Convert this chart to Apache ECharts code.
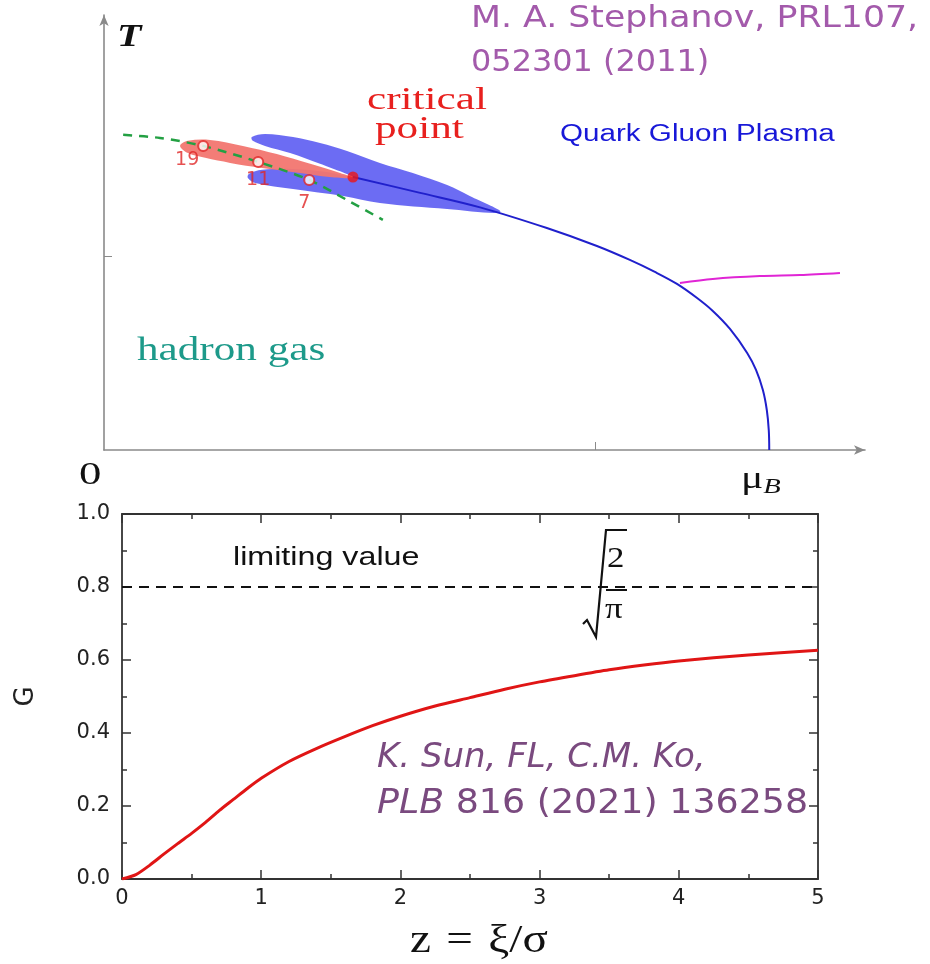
<!DOCTYPE html>
<html>
<head>
<meta charset="utf-8">
<script src="https://cdn.jsdelivr.net/npm/echarts@6/dist/echarts.min.js"></script>
<style>
  html, body { margin: 0; padding: 0; background: #fff; }
  #chart { width: 930px; height: 964px; }
</style>
</head>
<body>
<div id="chart"></div>
<script>
// ---- Phase diagram (upper panel), in arbitrary mu_B / T units ----
const phaseLine = [
  [0.507, 1.412], [0.644, 1.330], [0.766, 1.255], [0.902, 1.148], [1.004, 1.055],
  [1.071, 0.983], [1.122, 0.921], [1.167, 0.859], [1.208, 0.786], [1.240, 0.719],
  [1.275, 0.626], [1.310, 0.502], [1.328, 0.414], [1.342, 0.310], [1.350, 0.207],
  [1.354, 0.103], [1.355, 0.0]
];
const magentaLine = [
  [1.173, 0.864], [1.240, 0.885], [1.336, 0.900], [1.418, 0.905], [1.499, 0.916]
];
const freezeOut = [
  [0.039, 1.630], [0.114, 1.614], [0.202, 1.573], [0.314, 1.490], [0.418, 1.397],
  [0.495, 1.293], [0.568, 1.190]
];
const blueRegion = [
  [0.807, 1.231], [0.745, 1.314], [0.699, 1.371], [0.629, 1.433], [0.562, 1.485],
  [0.495, 1.547], [0.440, 1.588], [0.385, 1.619], [0.328, 1.635], [0.301, 1.619],
  [0.303, 1.599], [0.328, 1.573], [0.379, 1.536], [0.440, 1.480], [0.507, 1.412],
  [0.454, 1.438], [0.385, 1.454], [0.322, 1.449], [0.295, 1.428], [0.293, 1.407],
  [0.308, 1.381], [0.385, 1.350], [0.487, 1.314], [0.562, 1.278], [0.699, 1.247]
];
const redRegion = [
  [0.155, 1.573], [0.171, 1.599], [0.216, 1.604], [0.283, 1.573], [0.352, 1.531],
  [0.420, 1.480], [0.481, 1.433], [0.507, 1.407], [0.460, 1.412], [0.399, 1.433],
  [0.322, 1.459], [0.257, 1.485], [0.206, 1.511], [0.171, 1.536]
];
const energyPoints = [[0.202, 1.573], [0.314, 1.490], [0.418, 1.397]];
const energyLabels = ['19', '11', '7'];
const criticalPoint = [[0.507, 1.412]];

// ---- G(z) (lower panel) ----
const zValues = [0, 0.1, 0.2, 0.3, 0.4, 0.5, 0.6, 0.7, 0.8, 0.9, 1.0, 1.2, 1.4, 1.6, 1.8,
                 2.0, 2.25, 2.5, 2.75, 3.0, 3.25, 3.5, 3.75, 4.0, 4.5, 5.0];
const gValues = [0, 0.012, 0.038, 0.068, 0.097, 0.125, 0.155, 0.188, 0.218, 0.248, 0.276,
                 0.322, 0.358, 0.39, 0.42, 0.446, 0.474, 0.497, 0.52, 0.54, 0.557, 0.573,
                 0.586, 0.597, 0.614, 0.627];
const limitValue = 0.8;

const labelOffsets = [[-16, 14], [0, 18], [-5, 23]];

function polygonSeries(name, pts, color, z) {
  return {
    type: 'custom', name: name, xAxisIndex: 0, yAxisIndex: 0, z: z, silent: true,
    data: pts,
    renderItem: function (params, api) {
      if (params.dataIndex !== 0) return;
      const coords = pts.map(function (p) { return api.coord(p); });
      return { type: 'polygon', shape: { points: coords, smooth: 0.35 }, style: { fill: color } };
    }
  };
}

// text element placed by its top-left corner, widened by sx
function label(x, y, text, font, color, sx, extra) {
  const style = Object.assign({ text: text, font: font, fill: color, align: 'left', verticalAlign: 'top' }, extra || {});
  return { type: 'text', x: x, y: y, scaleX: sx || 1, scaleY: 1, style: style, silent: true };
}

const chart = echarts.init(document.getElementById('chart'), null, { renderer: 'canvas' });

const frameLine = { show: true, onZero: false, lineStyle: { color: '#333', width: 1.8 } };
const tickStyle = { color: '#333', width: 1.5 };
const tickFont = { fontFamily: 'DejaVu Sans', fontSize: 21, color: '#222' };

chart.setOption({
  animation: false,
  backgroundColor: '#fff',
  grid: [
    { left: 104, top: 15, width: 761, height: 435 },
    { left: 122, top: 514, width: 696, height: 365 }
  ],
  xAxis: [
    {
      gridIndex: 0, type: 'value', min: 0, max: 1.55,
      axisLine: { show: true, onZero: false, symbol: ['none', 'arrow'], symbolSize: [7, 11], lineStyle: { color: '#8a8a8a', width: 1.6 } },
      axisTick: { show: true, inside: true, length: 8, customValues: [1], lineStyle: { color: '#8a8a8a' } },
      axisLabel: { show: false }, splitLine: { show: false }
    },
    {
      gridIndex: 1, type: 'value', min: 0, max: 5, interval: 1, position: 'bottom',
      axisLine: frameLine,
      axisTick: { show: true, inside: true, length: 9, lineStyle: tickStyle },
      minorTick: { show: true, splitNumber: 2, length: 5, lineStyle: tickStyle },
      axisLabel: Object.assign({ show: true, margin: 9 }, tickFont),
      splitLine: { show: false }
    },
    {
      gridIndex: 1, type: 'value', min: 0, max: 5, interval: 1, position: 'top',
      axisLine: frameLine,
      axisTick: { show: true, inside: true, length: 9, lineStyle: tickStyle },
      minorTick: { show: true, splitNumber: 2, length: 5, lineStyle: tickStyle },
      axisLabel: { show: false }, splitLine: { show: false }
    }
  ],
  yAxis: [
    {
      gridIndex: 0, type: 'value', min: 0, max: 2.25,
      axisLine: { show: true, onZero: false, symbol: ['none', 'arrow'], symbolSize: [7, 11], lineStyle: { color: '#8a8a8a', width: 1.6 } },
      axisTick: { show: true, inside: true, length: 8, customValues: [1], lineStyle: { color: '#8a8a8a' } },
      axisLabel: { show: false }, splitLine: { show: false }
    },
    {
      gridIndex: 1, type: 'value', min: 0, max: 1, interval: 0.2, position: 'left',
      axisLine: frameLine,
      axisTick: { show: true, inside: true, length: 9, lineStyle: tickStyle },
      minorTick: { show: true, splitNumber: 2, length: 5, lineStyle: tickStyle },
      axisLabel: Object.assign({ show: true, margin: 12,
        formatter: function (v) { return v.toFixed(1); } }, tickFont),
      splitLine: { show: false },
      name: 'G', nameLocation: 'middle', nameGap: 83, nameRotate: 90,
      nameTextStyle: { fontFamily: 'DejaVu Sans', fontSize: 26, color: '#222' }
    },
    {
      gridIndex: 1, type: 'value', min: 0, max: 1, interval: 0.2, position: 'right',
      axisLine: frameLine,
      axisTick: { show: true, inside: true, length: 9, lineStyle: tickStyle },
      minorTick: { show: true, splitNumber: 2, length: 5, lineStyle: tickStyle },
      axisLabel: { show: false }, splitLine: { show: false }
    }
  ],
  series: [
    polygonSeries('crossover region', blueRegion, 'rgba(96, 96, 242, 0.92)', 1),
    polygonSeries('fluctuation region', redRegion, 'rgba(242, 118, 112, 0.95)', 2),
    {
      type: 'line', name: 'freeze-out', xAxisIndex: 0, yAxisIndex: 0, z: 3,
      data: freezeOut, smooth: 0.3, showSymbol: false,
      lineStyle: { color: '#23a043', width: 2.5, type: [9, 7] }
    },
    {
      type: 'line', name: 'phase boundary', xAxisIndex: 0, yAxisIndex: 0, z: 4,
      data: phaseLine, smooth: 0.35, showSymbol: false,
      lineStyle: { color: '#2020cc', width: 2 }
    },
    {
      type: 'line', name: 'magenta', xAxisIndex: 0, yAxisIndex: 0, z: 4,
      data: magentaLine, smooth: 0.3, showSymbol: false,
      lineStyle: { color: '#e025d5', width: 2 }
    },
    {
      type: 'scatter', name: 'energies', xAxisIndex: 0, yAxisIndex: 0, z: 5,
      data: energyPoints.map(function (p, i) {
        return { value: p, label: { offset: labelOffsets[i] } };
      }),
      symbol: 'circle', symbolSize: 10,
      itemStyle: { color: '#ffffff', borderColor: '#e02525', borderWidth: 2 },
      label: {
        show: true, position: 'inside', color: '#e02525', fontFamily: 'DejaVu Sans', fontSize: 19,
        formatter: function (p) { return energyLabels[p.dataIndex]; }
      }
    },
    {
      type: 'scatter', name: 'critical point', xAxisIndex: 0, yAxisIndex: 0, z: 6,
      data: criticalPoint, symbol: 'circle', symbolSize: 11,
      itemStyle: { color: '#ee1515' }
    },
    {
      type: 'line', name: 'limit', xAxisIndex: 1, yAxisIndex: 1, z: 3,
      data: [[0, limitValue], [5, limitValue]], showSymbol: false,
      lineStyle: { color: '#111', width: 2, type: [10, 7] }
    },
    {
      type: 'line', name: 'G', xAxisIndex: 1, yAxisIndex: 1, z: 4,
      data: zValues.map(function (z, i) { return [z, gValues[i]]; }),
      smooth: 0.25, showSymbol: false,
      lineStyle: { color: '#e01515', width: 3 }
    }
  ],
  graphic: [
    label(117, 22, 'T', 'italic bold 32px "Liberation Serif"', '#111', 1.25),
    label(79, 460, '0', '32px "Liberation Serif"', '#111', 1.4),
    label(741, 462, '{m|μ}{s|B}', '32px "Liberation Serif"', '#111', 1.3, {
      rich: {
        m: { font: '32px "Liberation Serif"', color: '#111' },
        s: { font: 'italic 22px "Liberation Serif"', color: '#111', padding: [14, 0, 0, 0] }
      }
    }),
    label(367, 85, 'critical', '32px "Liberation Serif"', '#e8201e', 1.35),
    label(375, 114, 'point', '32px "Liberation Serif"', '#e8201e', 1.35),
    label(560, 123, 'Quark Gluon Plasma', '23.5px "Liberation Sans"', '#1818d8', 1.26),
    label(137, 334, 'hadron gas', '34px "Liberation Serif"', '#1d9a8a', 1.27),
    label(471, 3, 'M. A. Stephanov, PRL107,', '31px "DejaVu Sans"', '#a35aab', 1.12),
    label(471, 47, '052301 (2011)', '31px "DejaVu Sans"', '#a35aab', 1.03),
    label(233, 546, 'limiting value', '25px "Liberation Sans"', '#111', 1.29),
    { type: 'polyline', shape: { points: [[583, 624], [587, 620], [596, 637], [606, 530], [627, 530]] },
      style: { stroke: '#111', lineWidth: 2.2, fill: null }, silent: true },
    { type: 'line', shape: { x1: 606, y1: 590, x2: 627, y2: 590 }, style: { stroke: '#111', lineWidth: 2 }, silent: true },
    label(607, 545, '2', '29px "Liberation Serif"', '#111', 1.2),
    label(605, 596, 'π', '29px "Liberation Serif"', '#111', 1.2),
    label(377, 741, 'K. Sun, FL, C.M. Ko,', 'italic 34px "DejaVu Sans"', '#7a4a7f', 1.0),
    label(377, 787, '{i|PLB} 816 (2021) 136258', '34px "DejaVu Sans"', '#7a4a7f', 1.07, {
      rich: { i: { font: 'italic 34px "DejaVu Sans"', color: '#7a4a7f' } }
    }),
    label(410, 921, '{a|z}{b|=}{a|ξ/σ}', '40px "Liberation Serif"', '#111', 1.18, {
      rich: {
        a: { font: '40px "Liberation Serif"', color: '#111' },
        b: { font: '40px "Liberation Serif"', color: '#111', padding: [0, 13, 0, 13] }
      }
    })
  ]
});
</script>
</body>
</html>
